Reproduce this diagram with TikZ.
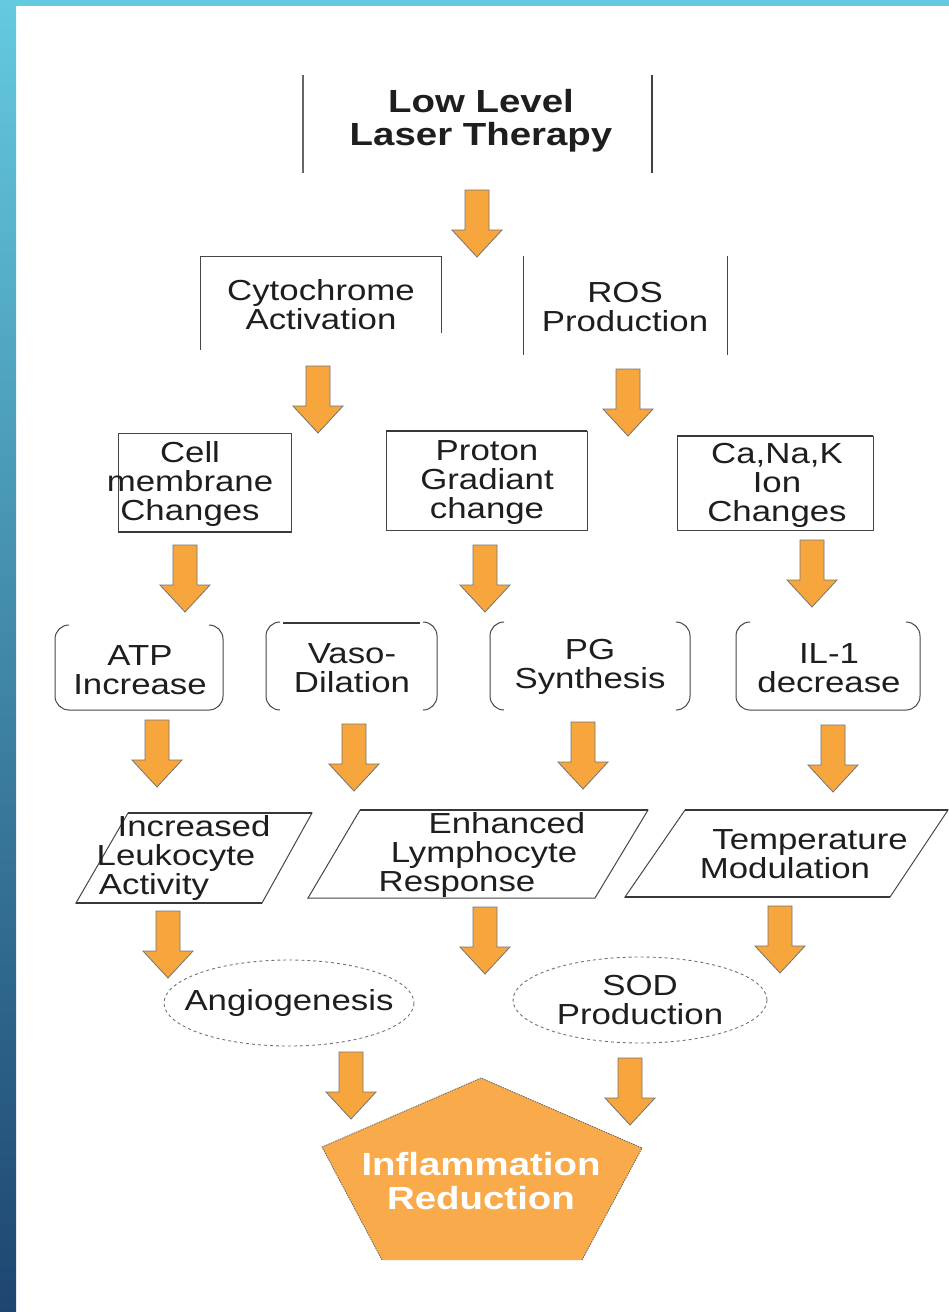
\documentclass[tikz,border=0pt]{standalone}
\usepackage{fontspec}
\setmainfont{Liberation Sans}[FakeStretch=1.2]
\definecolor{arrorange}{RGB}{247,166,62}
\definecolor{pentorange}{RGB}{249,170,74}
\definecolor{stripcyan}{RGB}{100,202,223}
\definecolor{stripdark}{RGB}{29,69,112}
\definecolor{linegray}{RGB}{70,70,70}
\definecolor{txt}{RGB}{30,30,30}
\begin{document}
\begin{tikzpicture}[x=1pt,y=-1pt,
  arrowfill/.style={fill=arrorange,draw=black!55,line width=0.8pt,line join=miter},
  lbl/.style={inner sep=0pt,align=center,text=txt,font=\fontsize{29}{29}\selectfont},
  titlelbl/.style={inner sep=0pt,align=center,text=txt,font=\fontsize{32}{33}\selectfont\bfseries},
  boxline/.style={draw=linegray,line width=1pt},
  heavyline/.style={draw=linegray!80!black,line width=2.4pt},
  dashline/.style={draw=black!55,line width=0.9pt,dash pattern=on 3pt off 3pt},
  barrow/.pic={\path[arrowfill] (-12,0) -- (12,0) -- (12,40) -- (25,40) -- (0,67) -- (-25,40) -- (-12,40) -- cycle;}
]
\useasboundingbox (0,0) rectangle (949,1312);
\fill[white] (0,0) rectangle (949,1312);
\shade[top color=stripcyan,bottom color=stripdark] (0,0) rectangle (16,1312);
\fill[stripcyan] (0,0) rectangle (949,6);

% ---- Title
\draw[draw=black!60,line width=2pt] (303,75) -- (303,173);
\draw[draw=black!75,line width=2pt] (652,75) -- (652,173);
\node[titlelbl] (llt) at (481,121) {Low Level\\Laser Therapy};

% ---- Level 1
\draw[boxline] (200,350) -- (200,256) -- (441,256) -- (441,333);
\node[lbl] (cyto) at (321,305) {Cytochrome\\Activation};
\draw[boxline] (523,256) -- (523,355);
\draw[boxline] (727,256) -- (727,355);
\node[lbl] (ros) at (625,307) {ROS\\Production};

% ---- Level 2 boxes
\draw[boxline] (118,433) rectangle (291,532);
\draw[heavyline] (118,532) -- (291,532);
\node[lbl] (cell) at (190,484) {Cell\\membrane\\Changes};
\draw[boxline] (386,431) rectangle (587,530);
\draw[heavyline] (386,431) -- (587,431);
\node[lbl] (proton) at (487,483) {Proton\\Gradiant\\change};
\draw[boxline] (677,436) rectangle (873,530);
\draw[heavyline] (677,436) -- (873,436);
\node[lbl] (ions) at (777,485) {Ca,Na,K\\Ion\\Changes};

% ---- Level 3 bracket shapes
\draw[boxline,rounded corners=14pt] (69,625) -- (55,625) -- (55,710) -- (223,710) -- (223,625) -- (209,625);
\node[lbl] (atp) at (140,670) {ATP\\Increase};
\draw[boxline,rounded corners=14pt] (280,622) -- (266,622) -- (266,710) -- (280,710);
\draw[boxline,rounded corners=14pt] (423,622) -- (437,622) -- (437,710) -- (423,710);
\draw[heavyline] (283,623) -- (420,623);
\node[lbl] (vaso) at (352,668) {Vaso-\\Dilation};
\draw[boxline,rounded corners=14pt] (504,622) -- (490,622) -- (490,710) -- (504,710);
\draw[boxline,rounded corners=14pt] (676,622) -- (690,622) -- (690,710) -- (676,710);
\node[lbl] (pg) at (590,667) {PG\\Synthesis};
\draw[boxline,rounded corners=14pt] (750,622) -- (736,622) -- (736,710) -- (920,710) -- (920,622) -- (906,622);
\node[lbl] (il) at (829,668) {IL-1\\decrease};

% ---- Level 4 parallelograms
\draw[boxline] (128,813) -- (312,813) -- (262,903) -- (76,903) -- cycle;
\draw[heavyline] (128,813) -- (312,813);
\draw[heavyline] (76,903) -- (262,903);
\node[lbl] (leuk) at (176,858) {\rule{36pt}{0pt}Increased\\Leukocyte\\Activity\rule{44pt}{0pt}};
\draw[boxline] (360,810) -- (648,810) -- (595,898) -- (308,898) -- cycle;
\draw[heavyline] (360,810) -- (648,810);
\node[lbl] (lymph) at (484,855) {\rule{46pt}{0pt}Enhanced\\Lymphocyte\\Response\rule{54pt}{0pt}};
\draw[boxline] (685,810) -- (948,810) -- (890,897) -- (625,897) -- cycle;
\draw[heavyline] (685,810) -- (948,810);
\draw[heavyline] (625,897) -- (890,897);
\node[lbl] (temp) at (785,854) {\rule{50pt}{0pt}Temperature\\Modulation};

% ---- Level 5 ellipses
\draw[dashline] (289,1003) ellipse [x radius=125, y radius=43];
\node[lbl] (angio) at (289,1003) {Angiogenesis};
\draw[dashline] (640,1000) ellipse [x radius=127, y radius=43];
\node[lbl] (sod) at (640,1000) {SOD\\Production};

% ---- Pentagon
\fill[pentorange] (481,1078) -- (642,1148) -- (582,1260) -- (382,1260) -- (322,1147) -- cycle;
\draw[draw=black!60,line width=0.8pt,dash pattern=on 1.5pt off 1pt] (582,1260) -- (642,1148) -- (481,1078) -- (322,1147) -- (382,1260);
\node[inner sep=0pt,align=center,text=white,font=\fontsize{32}{34}\selectfont\bfseries] (infl) at (481,1181) {Inflammation\\Reduction};

% ---- Block arrows
\pic at (477,190) {barrow};
\pic at (318,366) {barrow};
\pic at (628,369) {barrow};
\pic at (185,545) {barrow};
\pic at (485,545) {barrow};
\pic at (812,540) {barrow};
\pic at (157,720) {barrow};
\pic at (354,724) {barrow};
\pic at (583,722) {barrow};
\pic at (833,725) {barrow};
\pic at (168,911) {barrow};
\pic at (485,907) {barrow};
\pic at (780,906) {barrow};
\pic at (351,1052) {barrow};
\pic at (630,1058) {barrow};
\end{tikzpicture}
\end{document}
